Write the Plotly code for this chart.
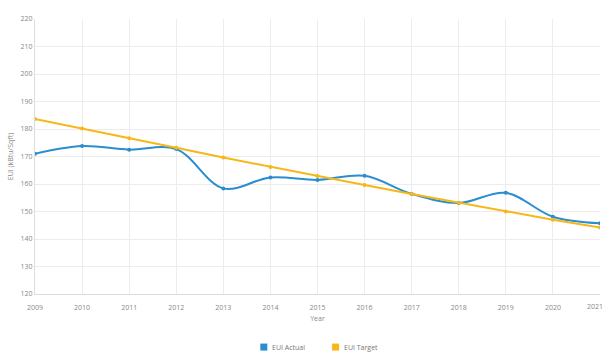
import plotly.graph_objects as go

years = [2009, 2010, 2011, 2012, 2013, 2014, 2015, 2016, 2017, 2018, 2019, 2020, 2021]
eui_actual = [171.0, 173.8, 172.5, 172.7, 158.4, 162.4, 161.5, 163.0, 156.4, 153.1, 156.8, 148.1, 145.7]
eui_target = [183.6, 180.2, 176.6, 173.2, 169.6, 166.2, 162.9, 159.6, 156.4, 153.2, 150.0, 147.0, 144.2]
y_ticks = [120, 130, 140, 150, 160, 170, 180, 190, 200, 210, 220]
series_names = ["EUI Actual", "EUI Target"]

BLUE = "#2a8dd0"
ORANGE = "#f7b718"
FONT = "Open Sans"

fig = go.Figure()
fig.add_trace(go.Scatter(x=years, y=eui_actual, mode="lines+markers", name=series_names[0],
                         line=dict(color=BLUE, width=2, shape="spline", smoothing=1.0),
                         marker=dict(color=BLUE, size=4), showlegend=False))
fig.add_trace(go.Scatter(x=years, y=eui_target, mode="lines+markers", name=series_names[1],
                         line=dict(color=ORANGE, width=2),
                         marker=dict(color=ORANGE, size=4), showlegend=False))

tick_text = [str(y) for y in years[:-1]] + [""]

fig.update_layout(
    width=605, height=356,
    margin=dict(l=35, r=5, t=19, b=62),
    paper_bgcolor="white", plot_bgcolor="white",
    font=dict(family=FONT, size=7, color="#888888"),
    showlegend=False,
    xaxis=dict(range=[2009, 2021], tickmode="array", tickvals=years,
               ticktext=tick_text, showgrid=True, gridcolor="#ececec",
               zeroline=False, showline=True, linecolor="#dddddd",
               title=dict(text="Year", font=dict(size=7, color="#888888"), standoff=4),
               ticks="", ticklabelstandoff=7),
    yaxis=dict(range=[120, 220], tickmode="array", tickvals=y_ticks,
               showgrid=True, gridcolor="#ececec", zeroline=False, showline=True,
               linecolor="#dddddd",
               title=dict(text="EUI (kBtu/Sqft)", font=dict(size=7, color="#888888"), standoff=6)),
)
# last year label sits at the right edge of the chart
fig.add_annotation(x=years[-1], y=0, xref="x", yref="paper", xanchor="right", yanchor="top",
                   xshift=5, yshift=-6, text=str(years[-1]), showarrow=False,
                   font=dict(size=7, color="#888888"))

# legend with square swatches, centred under the plot
legend_y = -0.193
for name, color, lx in zip(series_names, [BLUE, ORANGE], [0.405, 0.532]):
    fig.add_shape(type="rect", xref="paper", yref="paper",
                  xsizemode="pixel", ysizemode="pixel", xanchor=lx, yanchor=legend_y,
                  x0=-3.5, x1=3.5, y0=-3.5, y1=3.5, fillcolor=color, line=dict(width=0))
    fig.add_annotation(x=lx, y=legend_y, xref="paper", yref="paper", xanchor="left",
                       yanchor="middle", xshift=6, text=name, showarrow=False,
                       font=dict(size=7, color="#777777"))

fig.write_html("out.html")
